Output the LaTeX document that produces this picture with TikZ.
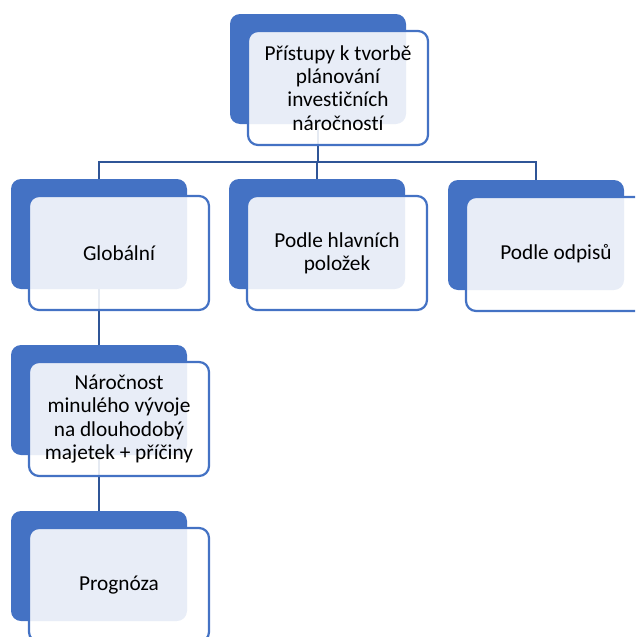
\documentclass[tikz,border=0pt]{standalone}
\usepackage{fontspec}
\setmainfont[Ligatures=NoCommon]{Carlito}
\usetikzlibrary{backgrounds}
\definecolor{acc}{HTML}{4472C4}
\definecolor{lnk}{HTML}{2F5597}
\begin{document}
\begin{tikzpicture}[x=1pt,y=-1pt,
 back/.style={fill=acc, rounded corners=10pt, minimum width=176pt, minimum height=110pt, inner sep=0pt},
 front/.style={fill=white, fill opacity=0.88, text opacity=1, draw=acc, line width=2.2pt, rounded corners=10pt, minimum width=180pt, minimum height=114pt, inner sep=0pt, align=center, font=\fontsize{21.3}{23.3}\selectfont},
 conn/.style={draw=lnk, line width=2.2pt}]
\useasboundingbox (0,0) rectangle (635,637);
\clip (0,0) rectangle (635,637);
\coordinate (bus) at (0,162);
% level 0
\node[back] (b0) at (318,69) {};
\node[front] (f0) at (338,88) {Přístupy k tvorbě\\plánování\\investičních\\náročností};
% level 1
\node[back] (b1) at (99,234) {};
\node[front] (f1) at (119,253) {Globální};
\node[back] (b2) at (317,234) {};
\node[front] (f2) at (337,253) {Podle hlavních\\položek};
\node[back] (b3) at (536,235) {};
\node[front] (f3) at (556,254) {Podle odpisů};
% level 2
\node[back] (b4) at (99,400) {};
\node[front] (f4) at (119,419) {Náročnost\\minulého vývoje\\na dlouhodobý\\majetek + příčiny};
% level 3
\node[back] (b5) at (99,566) {};
\node[front] (f5) at (119,585) {Prognóza};
\begin{pgfonlayer}{background}
\draw[conn] (b0.south) -- (b0.south |- bus);
\draw[conn] (b1.north) |- (b3.north |- bus) -- (b3.north);
\draw[conn] (b2.north) -- (b2.north |- bus);
\draw[conn] (b1.south) -- (b4.north);
\draw[conn] (b4.south) -- (b5.north);
\end{pgfonlayer}
\end{tikzpicture}
\end{document}
